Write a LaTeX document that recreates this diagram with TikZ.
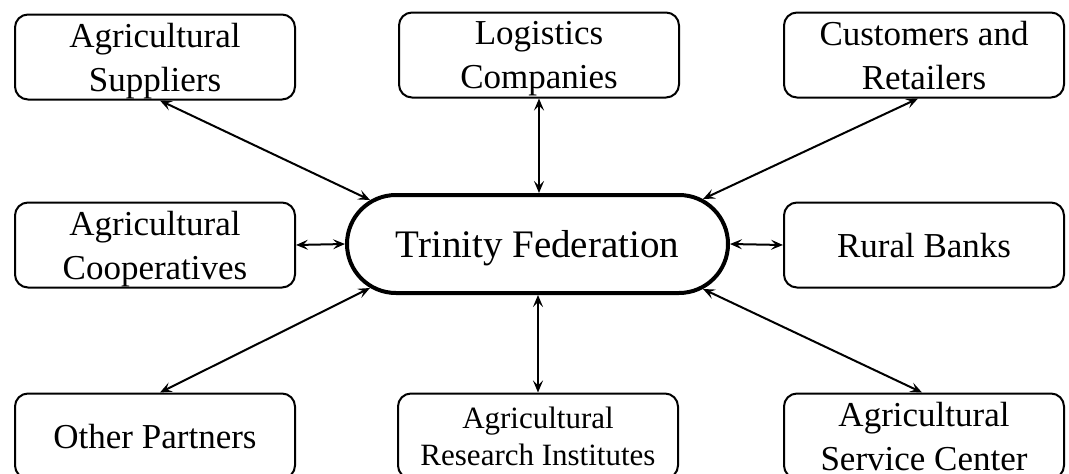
\documentclass[tikz,border=0pt]{standalone}
\usepackage{fontspec}
\setmainfont{Liberation Serif}
\usetikzlibrary{arrows.meta,calc}
\tikzset{
  box/.style={draw, line width=2pt, rounded corners=13pt, minimum width=280pt, minimum height=85pt,
    inner sep=2pt, align=center, text depth=0pt, font=\fontsize{35pt}{44pt}\selectfont},
  smallbox/.style={box, font=\fontsize{31pt}{37pt}\selectfont},
  hub/.style={draw, line width=4pt, rounded corners=49pt, minimum width=381pt, minimum height=98pt,
    text depth=0pt, font=\fontsize{39pt}{46pt}\selectfont},
  link/.style={line width=2pt, {Stealth[length=12pt,width=10pt,inset=5pt]}-{Stealth[length=12pt,width=10pt,inset=5pt]}}
}
\begin{document}
\begin{tikzpicture}[x=1pt,y=-1pt]
\useasboundingbox (0,0) rectangle (1069,474);
\node[hub] (tf) at (537.5,244) {Trinity Federation};
\node[box] (sup) at (155,57) {Agricultural\\Suppliers};
\node[box] (log) at (539,55) {Logistics\\Companies};
\node[box] (cus) at (924,55) {Customers and\\Retailers};
\node[box] (coop) at (155,245) {Agricultural\\Cooperatives};
\node[box] (bank) at (924,245) {Rural Banks};
\node[box] (oth) at (155,436) {Other Partners};
\node[smallbox] (res) at (538,436) {Agricultural\\Research Institutes};
\node[box] (serv) at (924,436) {Agricultural\\Service Center};
\coordinate (cL) at ($(tf.west)+(51,0)$);
\coordinate (cR) at ($(tf.east)+(-51,0)$);
\coordinate (pNW) at ($(cL)+(-26,-44)$);
\coordinate (pSW) at ($(cL)+(-26,44)$);
\coordinate (pNE) at ($(cR)+(24,-45)$);
\coordinate (pSE) at ($(cR)+(24,45)$);
\draw[link] ([xshift=5pt]sup.south) -- (pNW);
\draw[link] ([xshift=-6pt]cus.south) -- (pNE);
\draw[link] ([xshift=5pt]oth.north) -- (pSW);
\draw[link] ([xshift=-2pt]serv.north) -- (pSE);
\draw[link] (log.south) -- (log.south |- tf.north);
\draw[link] (res.north) -- (res.north |- tf.south);
\draw[link] (coop.east) -- (tf.west);
\draw[link] (bank.west) -- (tf.east);
\end{tikzpicture}
\end{document}
